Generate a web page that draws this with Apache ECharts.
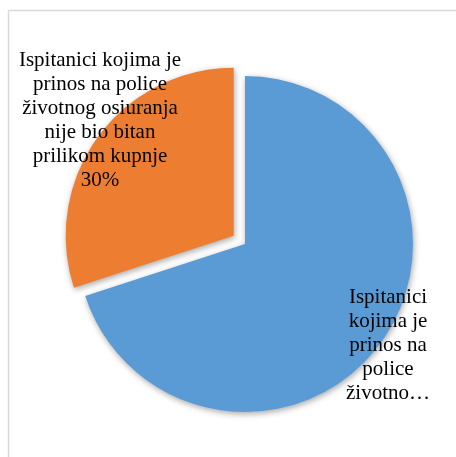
<!DOCTYPE html>
<html><head><meta charset="utf-8">
<script src="https://cdn.jsdelivr.net/npm/echarts@6/dist/echarts.min.js"></script>
<style>html,body{margin:0;padding:0;background:#fff}#c{width:456px;height:457px}</style>
</head><body><div id="c"></div>
<script>
const categories = [
  "Ispitanici kojima je prinos na police životnog osiguranja bio bitan prilikom kupnje",
  "Ispitanici kojima je prinos na police životnog osiuranja nije bio bitan prilikom kupnje"
];
const values = [70, 30];
const labelTexts = [
  "Ispitanici\nkojima je\nprinos na\npolice\nživotno…",
  "Ispitanici kojima je\nprinos na police\nživotnog osiuranja\nnije bio bitan\nprilikom kupnje\n30%"
];
const colors = ["#5B9BD5", "#ED7D31"];
const exploded = [false, true];
const labelPos = [[388, 345], [100, 120]];

const baseCenter = [245, 244];
const explodeOffset = 14;
const radius = 168;

// mid angle of the exploded slice (start at 90°, clockwise)
const total = values.reduce((a, b) => a + b, 0);
function midAngle(idx) {
  let acc = 0;
  for (let i = 0; i < idx; i++) acc += values[i];
  const a0 = 90 - acc / total * 360;
  const a1 = 90 - (acc + values[idx]) / total * 360;
  return (a0 + a1) / 2 * Math.PI / 180;
}

function makeSeries(explode) {
  const idxEx = exploded.indexOf(true);
  let c = baseCenter.slice();
  if (explode) {
    const m = midAngle(idxEx);
    c = [baseCenter[0] + explodeOffset * Math.cos(m), baseCenter[1] - explodeOffset * Math.sin(m)];
  }
  return {
    type: 'pie',
    center: c,
    radius: [0, radius],
    startAngle: 90,
    clockwise: true,
    silent: true,
    avoidLabelOverlap: false,
    label: {
      show: true, position: 'inside',
      fontFamily: '"Liberation Serif", "DejaVu Serif", serif',
      fontSize: 21, lineHeight: 24, color: '#000',
      align: 'center',
      formatter: p => labelTexts[p.dataIndex]
    },
    labelLine: {show: false},
    labelLayout: p => ({x: labelPos[p.dataIndex][0], y: labelPos[p.dataIndex][1], align: 'center', verticalAlign: 'middle'}),
    emphasis: {disabled: true},
    data: categories.map((n, i) => {
      const visible = exploded[i] === explode;
      return {
        name: n, value: values[i],
        label: {show: visible},
        itemStyle: visible
          ? {color: colors[i], shadowBlur: 6, shadowColor: 'rgba(0,0,0,0.35)', shadowOffsetX: 1, shadowOffsetY: 2}
          : {color: 'rgba(0,0,0,0)', shadowColor: 'rgba(0,0,0,0)'}
      };
    })
  };
}

const chart = echarts.init(document.getElementById('c'), null, {renderer: 'canvas'});
chart.setOption({
  animation: false,
  graphic: [{
    type: 'rect', shape: {x: 8.5, y: 10.5, width: 470, height: 470},
    style: {fill: 'none', stroke: '#d9d9d9', lineWidth: 1.5}, silent: true
  }],
  series: [makeSeries(false), makeSeries(true)]
});
</script></body></html>
